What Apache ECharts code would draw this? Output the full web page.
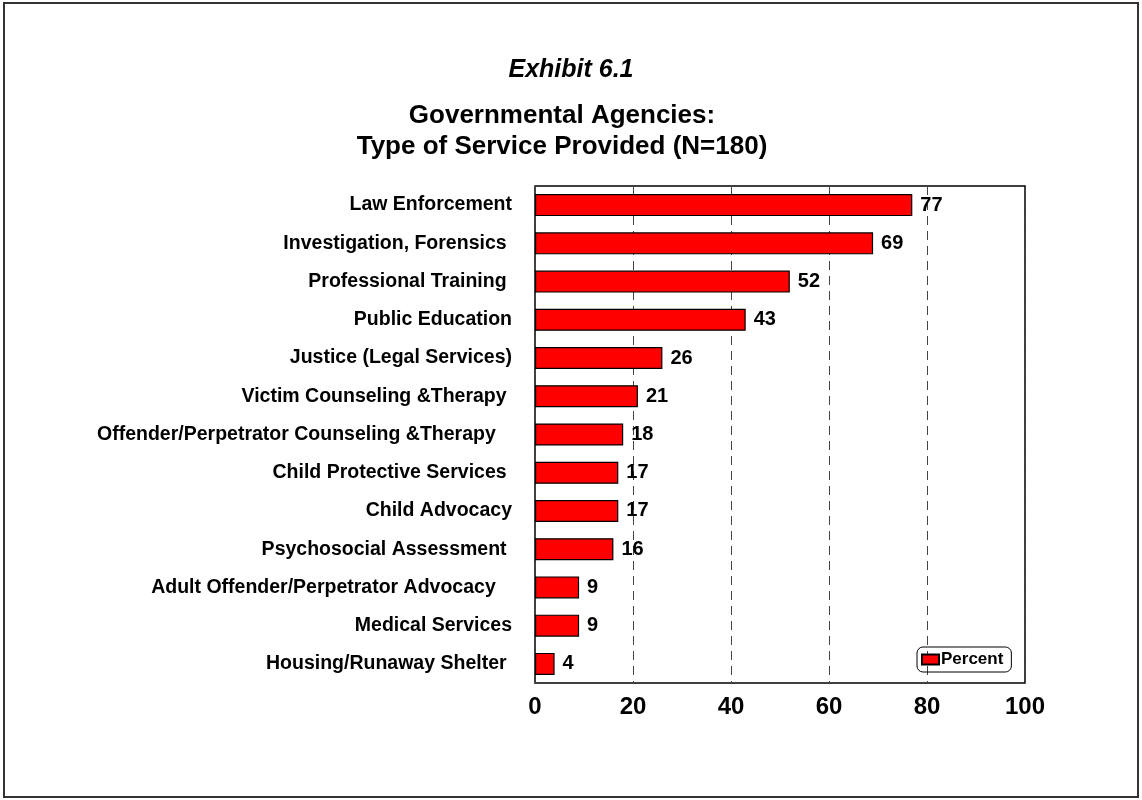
<!DOCTYPE html>
<html>
<head>
<meta charset="utf-8">
<script src="https://cdn.jsdelivr.net/npm/echarts@6/dist/echarts.min.js"></script>
<style>
  html, body { margin: 0; padding: 0; background: #fff; }
  #chart { width: 1142px; height: 800px; }
</style>
</head>
<body>
<div id="chart"></div>
<script>
// categories top to bottom (trailing spaces kept as in the original labels)
var categories = [
  "Law Enforcement",
  "Investigation, Forensics ",
  "Professional Training ",
  "Public Education",
  "Justice (Legal Services)",
  "Victim Counseling &Therapy ",
  "Offender/Perpetrator Counseling &Therapy   ",
  "Child Protective Services ",
  "Child Advocacy",
  "Psychosocial Assessment ",
  "Adult Offender/Perpetrator Advocacy   ",
  "Medical Services",
  "Housing/Runaway Shelter "
];
var percent = [77, 69, 52, 43, 26, 21, 18, 17, 17, 16, 9, 9, 4];
var xTicks = [0, 20, 40, 60, 80, 100];

var font = "Arial, 'Liberation Sans', sans-serif";
var chart = echarts.init(document.getElementById("chart"));

chart.setOption({
  animation: false,
  graphic: [
    {
      type: "rect",
      shape: { x: 4, y: 3, width: 1134, height: 794 },
      style: { fill: null, stroke: "#333", lineWidth: 2 },
      silent: true
    }
  ],
  title: [
    {
      text: "Exhibit 6.1",
      left: 566, top: 53, textAlign: "center",
      textStyle: { fontFamily: font, fontSize: 25, lineHeight: 25, fontWeight: "bold", fontStyle: "italic", color: "#000" }
    },
    {
      text: "Governmental Agencies:\nType of Service Provided (N=180)",
      left: 557, top: 95, textAlign: "center",
      textStyle: { fontFamily: font, fontSize: 26, fontWeight: "bold", color: "#000", lineHeight: 31 }
    }
  ],
  legend: {
    left: 917, top: 647,
    data: ["Percent"],
    icon: "rect",
    itemWidth: 17, itemHeight: 10,
    padding: [4, 8, 4, 4],
    borderColor: "#000", borderWidth: 1, borderRadius: 6,
    textStyle: { fontFamily: font, fontSize: 17, fontWeight: "bold", color: "#000", padding: [0, 0, 0, -3] }
  },
  grid: {
    left: 535, top: 186, width: 490, height: 497,
    show: true, borderColor: "#000", borderWidth: 1.5,
    containLabel: false
  },
  xAxis: {
    type: "value",
    min: 0, max: 100, interval: 20,
    axisLine: { show: false },
    axisTick: { show: false },
    splitLine: {
      show: true,
      lineStyle: { color: "#444", type: [9, 6], width: 1 }
    },
    axisLabel: {
      margin: 12,
      fontFamily: font, fontSize: 24, fontWeight: "bold", color: "#000",
      formatter: function (v) { return xTicks.indexOf(v) >= 0 ? String(v) : ""; }
    }
  },
  yAxis: {
    type: "category",
    inverse: true,
    data: categories,
    axisLine: { show: false },
    axisTick: { show: false },
    axisLabel: {
      margin: 23,
      fontFamily: font, fontSize: 19.5, fontWeight: "bold", color: "#000"
    }
  },
  series: [
    {
      name: "Percent",
      type: "bar",
      data: percent,
      barWidth: 22,
      itemStyle: { color: "#ff0000", borderColor: "#000", borderWidth: 1.2 },
      label: {
        show: true, position: "right", distance: 8,
        fontFamily: font, fontSize: 20, fontWeight: "bold", color: "#000"
      }
    }
  ]
});
</script>
</body>
</html>
